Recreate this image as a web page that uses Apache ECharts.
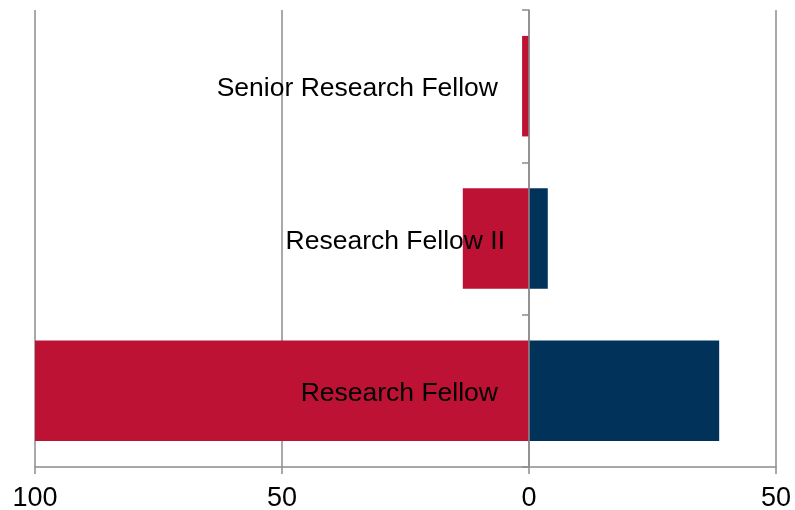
<!DOCTYPE html>
<html>
<head>
<meta charset="utf-8">
<script src="https://cdn.jsdelivr.net/npm/echarts@6/dist/echarts.min.js"></script>
<style>
  html, body { margin: 0; padding: 0; background: #fff; }
  #chart { width: 795px; height: 510px; }
</style>
</head>
<body>
<div id="chart"></div>
<script>
// Staff grades, bottom to top
const categories = ['Research Fellow', 'Research Fellow II', 'Senior Research Fellow'];
// Left side (drawn as negative values, shown as absolute numbers)
const leftValues = [-100, -13.4, -1.4];
// Right side
const rightValues = [38.5, 3.8, 0];
// Value axis ticks
const axisMin = -100;
const axisMax = 50;
const axisStep = 50;

const gray = '#8c8c8c';
const font = 'Liberation Sans, Arial, sans-serif';
const gridLeft = 35;

const chart = echarts.init(document.getElementById('chart'), null, { renderer: 'canvas' });
chart.setOption({
  animation: false,
  backgroundColor: '#ffffff',
  grid: { left: gridLeft, right: 19, top: 10, bottom: 43, containLabel: false, outerBoundsMode: 'none' },
  xAxis: {
    type: 'value',
    min: axisMin,
    max: axisMax,
    interval: axisStep,
    axisLine: { show: true, lineStyle: { color: gray, width: 1.5 } },
    axisTick: { show: true, length: 7, lineStyle: { color: gray, width: 1.5 } },
    splitLine: { show: true, lineStyle: { color: gray, width: 1.5 } },
    axisLabel: {
      color: '#000', fontSize: 27, fontFamily: font, margin: 18,
      formatter: v => String(Math.abs(v))
    }
  },
  yAxis: {
    type: 'category',
    data: categories,
    axisLine: { show: true, onZero: false, lineStyle: { color: gray, width: 1.5 } },
    axisTick: { show: true, length: 7, lineStyle: { color: gray, width: 1.5 } },
    axisLabel: {
      margin: 24,
      // the middle label sits a little closer to the axis
      formatter: v => (v === 'Research Fellow II' ? '{near|' : '{far|') + v + '}',
      rich: {
        far: { color: '#000', fontSize: 26.5, fontFamily: font, padding: [6, 7, 0, 0] },
        near: { color: '#000', fontSize: 26.5, fontFamily: font, padding: [6, 0, 0, 0] }
      }
    },
    z: 5
  },
  series: [
    {
      type: 'bar', stack: 'grade', data: leftValues,
      barCategoryGap: '34%',
      itemStyle: { color: '#be1234' },
      z: 2
    },
    {
      type: 'bar', stack: 'grade', data: rightValues,
      barCategoryGap: '34%',
      itemStyle: { color: '#00325a' },
      z: 2
    }
  ]
});

// Move the category axis (line, ticks and labels) onto the zero line
const zeroX = chart.convertToPixel({ xAxisIndex: 0 }, 0);
chart.setOption({ yAxis: { offset: -(zeroX - gridLeft) } });
</script>
</body>
</html>
